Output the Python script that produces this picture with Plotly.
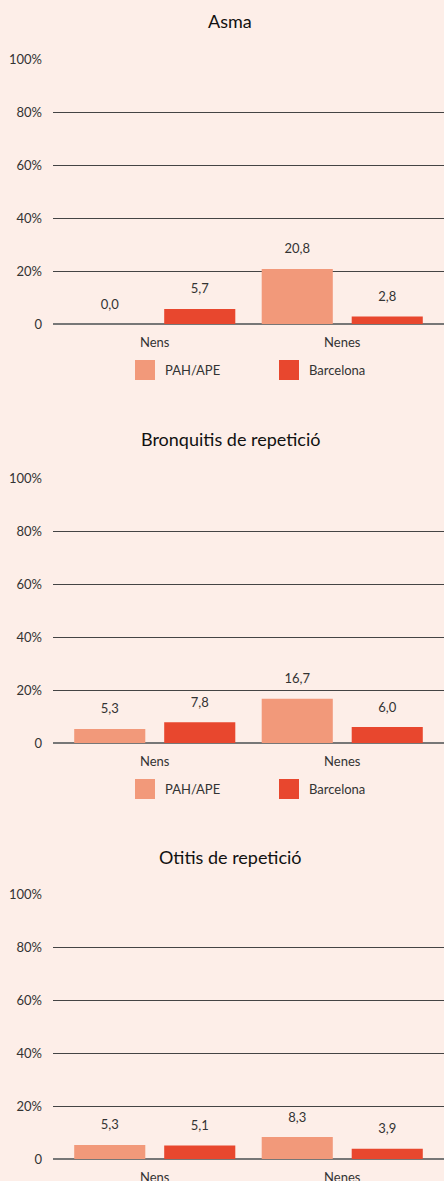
import plotly.graph_objects as go

# data
categories = ["Nens", "Nenes"]
series_names = ["PAH/APE", "Barcelona"]
titles = ["Asma", "Bronquitis de repetició", "Otitis de repetició"]
asma_pah = [0.0, 20.8]
asma_bcn = [5.7, 2.8]
bronq_pah = [5.3, 16.7]
bronq_bcn = [7.8, 6.0]
otitis_pah = [5.3, 8.3]
otitis_bcn = [5.1, 3.9]
tick_vals = [0, 20, 40, 60, 80, 100]
tick_text = ["0", "20%", "40%", "60%", "80%", "100%"]

colors = ["#F2997A", "#E8472E"]
bg = "#FDEEE8"
W, H = 444, 1181
BARGAP = 0.04

panels = [(asma_pah, asma_bcn), (bronq_pah, bronq_bcn), (otitis_pah, otitis_bcn)]
# pixel top / bottom of each plot area
px_boxes = [(59, 324), (478, 743), (894, 1159)]
title_y = [21, 439, 857]
legend_y = [370, 789, None]

fig = go.Figure()

def fmt(v):
    return f"{v:.1f}".replace(".", ",")

shapes, annotations = [], []
for i, (vals_pah, vals_bcn) in enumerate(panels):
    n = "" if i == 0 else str(i + 1)
    for j, vals in enumerate([vals_pah, vals_bcn]):
        fig.add_trace(go.Bar(
            x=categories, y=vals, name=series_names[j],
            marker=dict(color=colors[j], line=dict(width=0)),
            offsetgroup=str(j), hoverinfo="skip",
            xaxis="x" + n, yaxis="y" + n, showlegend=False,
        ))
        # value labels (invisible markers keep the text off the bar top)
        fig.add_trace(go.Scatter(
            x=categories, y=vals, mode="markers+text",
            marker=dict(size=18, opacity=0), text=[fmt(v) for v in vals],
            textposition="top center", cliponaxis=False, offsetgroup=str(j),
            textfont=dict(size=13, color="#333"), hoverinfo="skip",
            xaxis="x" + n, yaxis="y" + n, showlegend=False,
        ))
    top, bot = px_boxes[i]
    fig.layout["xaxis" + n] = dict(
        domain=[53 / W, 1], anchor="y" + n, showgrid=False, showline=False,
        range=[-0.5427, 1.5427], ticks="", fixedrange=True, automargin=False,
        tickfont=dict(size=13, color="#333"), ticklabelstandoff=9,
    )
    fig.layout["yaxis" + n] = dict(
        domain=[1 - bot / H, 1 - top / H], anchor="x" + n, range=[0, 100],
        tickvals=tick_vals, ticktext=tick_text, showgrid=True,
        gridcolor="#444", gridwidth=1, zeroline=True, zerolinecolor="#777",
        zerolinewidth=1.5, tickfont=dict(size=13, color="#333"), ticks="",
        ticklabelstandoff=10, fixedrange=True, automargin=False,
    )
    annotations.append(dict(
        text=titles[i], x=230 / W, y=1 - title_y[i] / H,
        xref="paper", yref="paper", showarrow=False,
        font=dict(size=18, color="#111"), xanchor="center", yanchor="middle",
    ))
    if legend_y[i] is not None:
        ly = legend_y[i]
        for j, name in enumerate(series_names):
            x0 = 135 + j * 144
            shapes.append(dict(
                type="rect", xref="paper", yref="paper",
                x0=x0 / W, x1=(x0 + 20) / W,
                y0=1 - (ly + 10) / H, y1=1 - (ly - 10) / H,
                fillcolor=colors[j], line=dict(width=0),
            ))
            annotations.append(dict(
                text=name, x=(x0 + 28) / W, y=1 - ly / H, xref="paper", yref="paper",
                showarrow=False, xanchor="left", yanchor="middle",
                font=dict(size=13, color="#333"),
            ))

fig.update_layout(
    width=W, height=H, margin=dict(l=0, r=0, t=0, b=0, autoexpand=False),
    paper_bgcolor=bg, plot_bgcolor=bg,
    font=dict(family="Lato, 'Open Sans', sans-serif", color="#222", size=13),
    barmode="group", bargap=BARGAP, bargroupgap=0.21,
    scattermode="group", scattergap=BARGAP,
    shapes=shapes, annotations=annotations, showlegend=False,
)

fig.write_html(
    "out.html", config={"displayModeBar": False},
    post_script="document.body.style.margin='0';document.body.style.overflow='hidden';",
)
